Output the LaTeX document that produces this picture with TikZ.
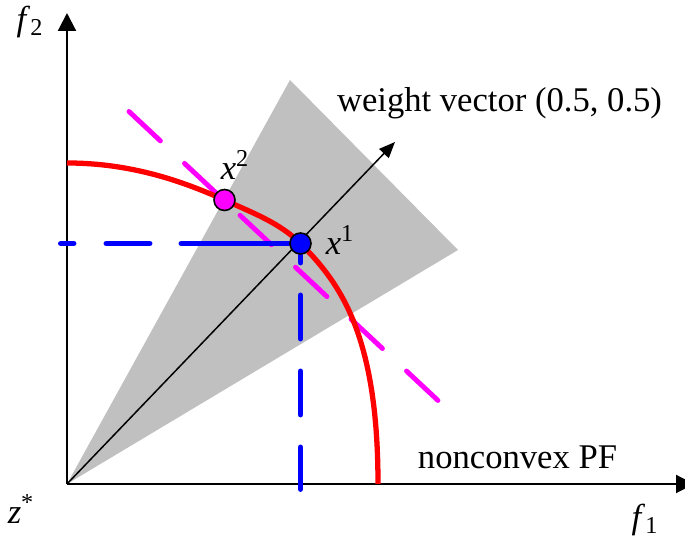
\documentclass[tikz,border=0pt]{standalone}
\usepackage{fontspec}
\setmainfont{Liberation Serif}
\usetikzlibrary{arrows.meta}
\definecolor{conegray}{RGB}{192,192,192}
\definecolor{pfred}{RGB}{255,0,0}
\definecolor{ptblue}{RGB}{0,0,255}
\definecolor{ptmagenta}{RGB}{255,0,255}

\begin{document}
\begin{tikzpicture}[x=1cm,y=1cm, font=\rmfamily\fontsize{19.7pt}{23pt}\selectfont,
    axis/.style={line width=1.2pt, -{Triangle[length=0.36cm, width=0.36cm]}},
    projline/.style={ptblue, line width=3.4pt, line cap=round},
    tchline/.style={ptmagenta, line width=2.8pt, line cap=round, dash pattern=on 0.86cm off 0.66cm},
    solpt/.style={circle, draw=black, line width=0.9pt, minimum size=0.42cm, inner sep=0pt}]
    \useasboundingbox (-1.34,-1.12) rectangle (12.36,9.68);
    % points of the picture
    \coordinate (O) at (0,0);
    \coordinate (ytip) at (0,9.42);
    \coordinate (xtip) at (12.54,0);
    \coordinate (wtip) at (6.56,6.84);
    \coordinate (p1) at (4.67,4.81);
    \coordinate (p2) at (3.15,5.68);
    \coordinate (hend) at (-0.12,4.81);
    \coordinate (vend) at (4.67,-0.10);
    \coordinate (tchA) at (1.24,7.45);
    \coordinate (tchB) at (7.42,1.67);
    % cone round the weight vector
    \fill[conegray] (O) -- (4.46,8.08) -- (7.82,4.68) -- cycle;
    \draw[axis] (O) -- (ytip);
    \draw[axis] (O) -- (xtip);
    \draw[line width=0.85pt, -{Triangle[length=0.32cm, width=0.26cm]}] (O) -- (wtip);
    \draw[tchline] (tchA) -- (tchB);
    \draw[projline, dash pattern=on 2.38cm off 0.64cm on 0.86cm off 0.66cm on 0.86cm off 0.66cm] (p1) -- (hend);
    \draw[projline, dash pattern=on 0.86cm off 0.66cm, dash phase=0.48cm] (p1) -- (vend);
    % nonconvex front
    \draw[pfred, line width=3pt] (0,6.42) .. controls (1.40,6.42) and (2.47,5.98) .. (p2)
        .. controls (3.67,5.44) and (4.25,5.23) .. (p1)
        .. controls (5.45,4.03) and (6.22,3.00) .. (6.22,0);
    \node[solpt, fill=ptblue] (x1) at (p1) {};
    \node[solpt, fill=ptmagenta] (x2) at (p2) {};
    % labels
    \node (f2) at (-0.74,9.24) {\textit{f}\textsubscript{2}};
    \node (f1) at (11.56,-0.72) {\textit{f}\textsubscript{1}};
    \node (zstar) at (-0.92,-0.5) {\textit{z}\textsuperscript{*}};
    \node (x2lab) at (3.36,6.38) {\textit{x}\textsuperscript{2}};
    \node (x1lab) at (5.46,4.88) {\textit{x}\textsuperscript{1}};
    \node (wlab) at (8.65,7.62) {weight vector (0.5, 0.5)};
    \node (pflab) at (9.01,0.54) {nonconvex PF};
\end{tikzpicture}
\end{document}
